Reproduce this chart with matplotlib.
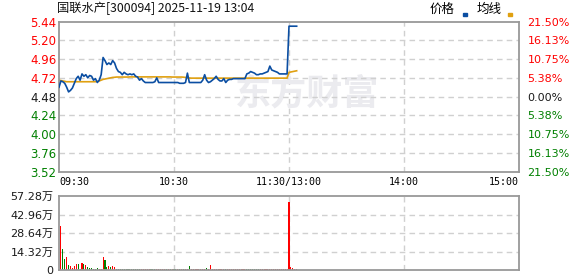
import numpy as np
import matplotlib as mpl
mpl.use('Agg')
import matplotlib.pyplot as plt
from matplotlib.patches import Rectangle

# minute index: 0 = 09:30, 120 = 11:30/13:00, 240 = 15:00
time_ticks = [0, 60, 120, 180, 240]
time_labels = ['09:30', '10:30', '11:30/13:00', '14:00', '15:00']

price_ticks = [3.52, 3.76, 4.00, 4.24, 4.48, 4.72, 4.96, 5.20, 5.44]
pct_labels = ['21.50%', '16.13%', '10.75%', '5.38%', '0.00%',
              '5.38%', '10.75%', '16.13%', '21.50%']
prev_close = 4.48

vol_ticks = [0, 14.32, 28.64, 42.96, 57.28]
vol_labels = ['0', '14.32万', '28.64万', '42.96万', '57.28万']

# price for each minute 0..124
price = [4.60, 4.68, 4.67, 4.65, 4.60, 4.54, 4.56, 4.59, 4.65, 4.71,
         4.74, 4.69, 4.77, 4.74, 4.76, 4.72, 4.75, 4.74, 4.69, 4.71,
         4.66, 4.69, 4.76, 4.98, 4.94, 4.89, 4.91, 4.89, 4.94, 4.91,
         4.84, 4.80, 4.79, 4.76, 4.79, 4.77, 4.76, 4.77, 4.76, 4.77,
         4.74, 4.73, 4.69, 4.71, 4.68, 4.66, 4.66, 4.66, 4.66, 4.66,
         4.67, 4.72, 4.66, 4.66, 4.66, 4.66, 4.66, 4.66, 4.66, 4.66,
         4.66, 4.66, 4.66, 4.65, 4.65, 4.65, 4.66, 4.78, 4.66, 4.66,
         4.66, 4.66, 4.66, 4.66, 4.66, 4.69, 4.76, 4.69, 4.66, 4.67,
         4.69, 4.71, 4.74, 4.70, 4.68, 4.68, 4.71, 4.66, 4.69, 4.70,
         4.70, 4.71, 4.71, 4.71, 4.71, 4.71, 4.71, 4.71, 4.77, 4.78,
         4.80, 4.79, 4.78, 4.76, 4.76, 4.77, 4.77, 4.78, 4.79, 4.80,
         4.87, 4.82, 4.81, 4.80, 4.79, 4.77, 4.77, 4.77, 4.77, 4.77,
         5.38, 5.38, 5.38, 5.38, 5.38]

# average price line, same minutes
avg_price = [4.690, 4.685, 4.680, 4.675, 4.670, 4.670, 4.670, 4.670, 4.670, 4.670,
             4.670, 4.670, 4.670, 4.670, 4.670, 4.670, 4.670, 4.670, 4.670, 4.670,
             4.675, 4.680, 4.690, 4.700, 4.705, 4.710, 4.715, 4.720, 4.725, 4.727,
             4.730, 4.730, 4.730, 4.730, 4.730, 4.730, 4.730, 4.732, 4.732, 4.732,
             4.732, 4.732, 4.732, 4.732, 4.732, 4.732, 4.732, 4.732, 4.732, 4.732,
             4.732, 4.732, 4.732, 4.732, 4.732, 4.732, 4.732, 4.732, 4.732, 4.730,
             4.730, 4.730, 4.730, 4.730, 4.730, 4.728, 4.725, 4.720, 4.718, 4.716,
             4.716, 4.716, 4.716, 4.716, 4.716, 4.716, 4.716, 4.716, 4.716, 4.716,
             4.716, 4.716, 4.716, 4.716, 4.716, 4.716, 4.716, 4.716, 4.716, 4.716,
             4.716, 4.716, 4.716, 4.716, 4.716, 4.716, 4.716, 4.716, 4.716, 4.716,
             4.716, 4.716, 4.716, 4.716, 4.716, 4.716, 4.716, 4.716, 4.716, 4.716,
             4.716, 4.716, 4.716, 4.716, 4.716, 4.716, 4.716, 4.716, 4.716, 4.716,
             4.790, 4.795, 4.800, 4.805, 4.810]

# volume (万) for minutes 1..124, 1 = up (red), 0 = down (green)
volume = [33.8, 16.3, 8.5, 10.3, 3.9, 3.1, 1.5, 3.1, 4.6, 4.6,
          0.5, 5.4, 4.6, 3.9, 2.3, 1.5, 1.5, 0.8, 0.8, 1.5,
          0.8, 0.8, 10.0, 7.7, 2.3, 3.1, 2.3, 3.1, 2.3, 0.8,
          0.8, 0.6, 0.6, 0.5, 0.6, 0.5, 0.6, 0.5, 0.5, 0.6,
          0.5, 0.5, 0.6, 0.5, 0.6, 0.5, 0.5, 0.5, 0.6, 0.5,
          0.6, 0.5, 0.5, 0.6, 0.5, 0.5, 0.5, 0.6, 0.5, 0.5,
          0.5, 0.5, 0.6, 0.5, 0.5, 0.6, 1.0, 3.1, 0.6, 0.5,
          0.5, 0.5, 0.6, 0.5, 0.5, 0.6, 1.5, 0.6, 3.9, 0.6,
          0.5, 0.5, 0.6, 0.5, 0.5, 0.5, 0.5, 0.5, 0.6, 0.5,
          0.5, 0.5, 0.6, 0.5, 0.5, 0.5, 0.5, 0.6, 0.5, 0.6,
          0.5, 0.5, 0.5, 0.5, 0.5, 0.5, 0.6, 0.5, 0.5, 0.6,
          0.5, 0.5, 0.5, 0.5, 0.6, 0.5, 0.5, 0.5, 0.6, 52.7,
          2.3, 1.5, 0.8, 0.4]
vol_up = [1, 0, 0, 1, 0, 1, 1, 1, 1, 0,
          0, 1, 0, 1, 0, 0, 0, 0, 0, 0,
          1, 1, 1, 0, 0, 1, 0, 1, 1, 0,
          0, 0, 0, 0, 0, 0, 0, 0, 0, 0,
          0, 0, 1, 1, 1, 1, 1, 0, 0, 0,
          1, 1, 1, 1, 1, 0, 1, 0, 1, 0,
          0, 1, 0, 1, 0, 1, 1, 0, 1, 1,
          1, 1, 1, 1, 1, 1, 0, 1, 1, 1,
          1, 1, 1, 1, 1, 1, 0, 1, 1, 1,
          1, 1, 1, 1, 1, 1, 1, 0, 0, 0,
          0, 0, 0, 0, 1, 1, 1, 1, 1, 1,
          1, 1, 1, 1, 1, 1, 1, 1, 1, 1,
          1, 1, 1, 1]

RED = '#ff0000'
GREEN = '#008000'
GRID = '#d0d0d0'
FRAME = '#999999'
CJK = ['Noto Sans CJK SC', 'DejaVu Sans']

W, H = 578, 276
fig = plt.figure(figsize=(W / 100, H / 100), dpi=100)

# pixel box -> figure fraction
def box(x0, y0, x1, y1):
    return [x0 / W, 1 - y1 / H, (x1 - x0) / W, (y1 - y0) / H]

ax = fig.add_axes(box(59, 21.5, 519, 171.7))
axv = fig.add_axes(box(59, 196, 519, 270))

for a in (ax, axv):
    for s in a.spines.values():
        s.set_color(FRAME)
        s.set_linewidth(1.3)
    a.set_xlim(0, 240)
    for t in time_ticks[1:-1]:
        a.axvline(t, color=GRID, lw=1, ls=(0, (4, 3)), zorder=0)

# watermark
ax.text(0.54, 0.52, '东方财富', transform=ax.transAxes, fontsize=26,
        family=CJK, fontweight='bold', color='#ebebef', ha='center',
        va='center', zorder=0, style='italic')

# main price chart
mins = np.arange(len(price))
ax.set_ylim(price_ticks[0], price_ticks[-1])
for p in price_ticks[1:-1]:
    ax.axhline(p, color=GRID, lw=1, ls=(0, (4, 3)), zorder=0)
ax.plot(mins, avg_price, color='#e0a010', lw=1.2, zorder=2)
ax.plot(mins, price, color='#0b4ea2', lw=1.2, zorder=3)

ax.set_yticks(price_ticks)
ax.set_yticklabels(['%.2f' % p for p in price_ticks], fontsize=8.5)
for lab, p in zip(ax.get_yticklabels(), price_ticks):
    lab.set_color(RED if p > prev_close else (GREEN if p < prev_close else '#1a1a1a'))
ax.tick_params(axis='y', length=0, pad=2)

ax.set_xticks(time_ticks)
ax.set_xticklabels(time_labels, fontsize=7.2, family='DejaVu Sans Mono')
xl = ax.get_xticklabels()
xl[0].set_ha('left')
xl[-1].set_ha('right')
ax.tick_params(axis='x', length=0, pad=4)

ax2 = ax.twinx()
ax2.set_ylim(price_ticks[0], price_ticks[-1])
ax2.set_yticks(price_ticks)
ax2.set_yticklabels(pct_labels, fontsize=8)
for lab, p in zip(ax2.get_yticklabels(), price_ticks):
    lab.set_color(RED if p > prev_close else (GREEN if p < prev_close else '#1a1a1a'))
ax2.tick_params(axis='y', length=0, pad=6)
for s in ax2.spines.values():
    s.set_visible(False)

# volume chart
vx = np.arange(1, len(volume) + 1)
vcol = [RED if u else GREEN for u in vol_up]
axv.set_ylim(0, vol_ticks[-1])
for v in vol_ticks[1:-1]:
    axv.axhline(v, color=GRID, lw=1, ls=(0, (4, 3)), zorder=0)
axv.bar(vx, volume, width=0.55, color=vcol, zorder=2)
axv.set_yticks(vol_ticks)
axv.set_yticklabels(vol_labels, fontsize=8, family=['DejaVu Sans', 'Noto Sans CJK SC'],
                    color='#1a1a1a')
axv.tick_params(axis='y', length=0, pad=4)
axv.set_xticks([])

# title and legend
fig.text(57 / W, 1 - 8.5 / H, '国联水产[300094] 2025-11-19 13:04', fontsize=8.8,
         family=CJK, ha='left', va='center', color='#111111')
fig.text(430 / W, 1 - 9 / H, '价格', fontsize=9, family=CJK, ha='left', va='center')
fig.text(477 / W, 1 - 9 / H, '均线', fontsize=9, family=CJK, ha='left', va='center')
fig.patches.append(Rectangle((462.5 / W, 1 - 16 / H), 4.5 / W, 2.5 / H,
                             transform=fig.transFigure, color='#0b4ea2'))
fig.patches.append(Rectangle((507.5 / W, 1 - 16 / H), 4.5 / W, 2.5 / H,
                             transform=fig.transFigure, color='#e0a010'))

fig.savefig('out.png', dpi=100)
